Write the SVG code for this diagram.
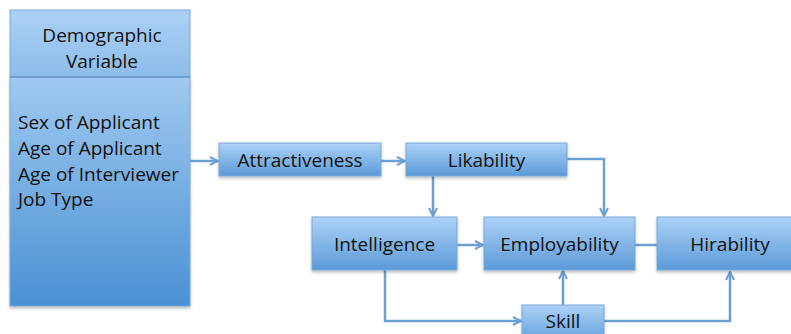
<svg xmlns="http://www.w3.org/2000/svg" width="791" height="334" viewBox="0 0 791 334">
<defs>
<linearGradient id="gBox" x1="0" y1="0" x2="0" y2="1">
<stop offset="0" stop-color="#acd2f6"/>
<stop offset="1" stop-color="#5b9ad8"/>
</linearGradient>
<linearGradient id="gHead" x1="0" y1="0" x2="0" y2="1">
<stop offset="0" stop-color="#abd1f5"/>
<stop offset="1" stop-color="#8dbce9"/>
</linearGradient>
<linearGradient id="gBody" x1="0" y1="0" x2="0" y2="1">
<stop offset="0" stop-color="#a0c9f0"/>
<stop offset="1" stop-color="#4a91d3"/>
</linearGradient>
<filter id="sh" x="-10%" y="-10%" width="120%" height="130%">
<feDropShadow dx="0" dy="2" stdDeviation="1.5" flood-color="#000" flood-opacity="0.25"/>
</filter>
<marker id="ah" viewBox="0 0 10 10" refX="9" refY="5" markerWidth="4" markerHeight="4" orient="auto" markerUnits="strokeWidth">
<path d="M1,1 L9,5 L1,9" fill="none" stroke="#6c9fd3" stroke-width="2"/>
</marker>
</defs>
<style>
.box{fill:url(#gBox);stroke:#77a7d8;stroke-width:1;filter:url(#sh)}
.t{font-family:"Open Sans","Liberation Sans",sans-serif;font-size:19px;fill:#111111;text-anchor:middle}
.tl{font-family:"Open Sans","Liberation Sans",sans-serif;font-size:19px;fill:#111111}
.c{fill:none;stroke:#6c9fd3;stroke-width:2.5}
.ca{fill:none;stroke:#6c9fd3;stroke-width:2.5;marker-end:url(#ah)}
</style>
<rect width="791" height="334" fill="#ffffff"/>
<g id="demographic">
<rect x="10" y="77" width="180" height="229" fill="url(#gBody)" stroke="#77a7d8" filter="url(#sh)"/>
<rect x="10" y="10" width="180" height="67" fill="url(#gHead)" stroke="#77a7d8"/>
<line x1="10" y1="77" x2="190" y2="77" stroke="#6a9bcf" stroke-width="1.5"/>
<text class="t" x="102" y="42">Demographic</text>
<text class="t" x="102" y="68">Variable</text>
<text class="tl" x="18" y="129">Sex of Applicant</text>
<text class="tl" x="18" y="155">Age of Applicant</text>
<text class="tl" x="18" y="181">Age of Interviewer</text>
<text class="tl" x="18" y="206">Job Type</text>
</g>
<g id="connectors">
<path class="ca" d="M190,161 L218,161"/>
<path class="ca" d="M381,161 L405,161"/>
<path class="ca" d="M433,176 L433,216"/>
<path class="ca" d="M567,159 L604,159 L604,216"/>
<path class="ca" d="M457,245 L483,245"/>
<path class="c" d="M635,245 L657,245"/>
<path class="ca" d="M385,270 L385,321 L521,321"/>
<path class="ca" d="M563,305 L563,271"/>
<path class="ca" d="M604,321 L730,321 L730,272"/>
</g>
<g id="attractiveness">
<rect class="box" x="219" y="143" width="162" height="33"/>
<text class="t" x="300" y="167">Attractiveness</text>
</g>
<g id="likability">
<rect class="box" x="406" y="143" width="161" height="33"/>
<text class="t" x="486.5" y="167">Likability</text>
</g>
<g id="intelligence">
<rect class="box" x="312" y="217" width="145" height="53"/>
<text class="t" x="384.5" y="251">Intelligence</text>
</g>
<g id="employability">
<rect class="box" x="484" y="217" width="151" height="53"/>
<text class="t" x="559.5" y="251">Employability</text>
</g>
<g id="hirability">
<rect class="box" x="657" y="217" width="146" height="53"/>
<text class="t" x="730" y="251">Hirability</text>
</g>
<g id="skill">
<rect class="box" x="522" y="305" width="82" height="40"/>
<text class="t" x="563" y="328">Skill</text>
</g>
</svg>
